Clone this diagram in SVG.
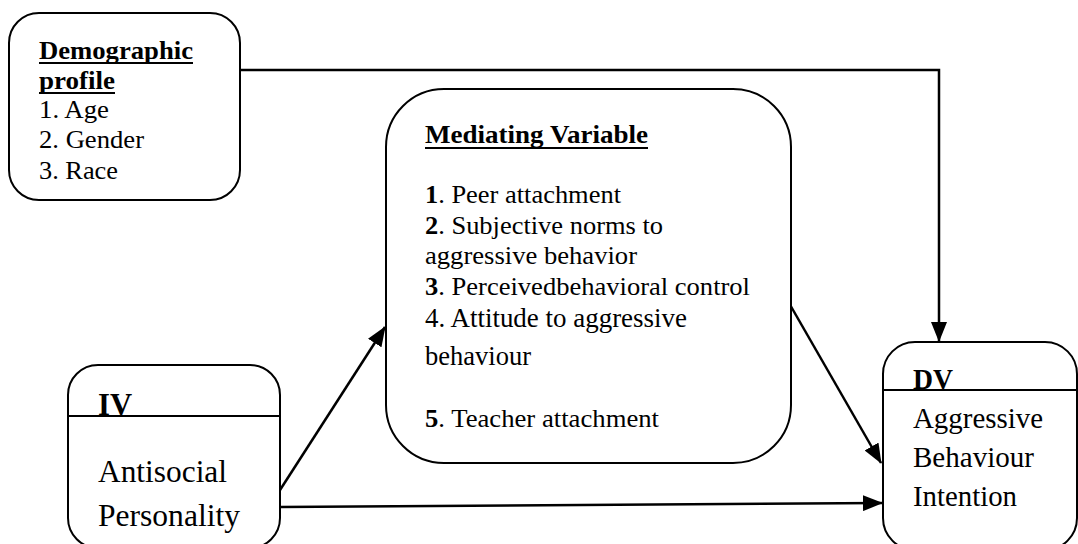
<svg xmlns="http://www.w3.org/2000/svg" width="1078" height="544" viewBox="0 0 1078 544">
<style>
  .box { fill: #ffffff; stroke: #000000; stroke-width: 2; }
  .sep { stroke: #000000; stroke-width: 2; }
  .t { font-family: "Liberation Serif", "Times New Roman", serif; fill: #000000; }
  .b { font-weight: bold; }
  .ul { stroke: #000000; stroke-width: 2; }
  .conn { fill: none; stroke: #000000; stroke-width: 2.5; }
</style>
<defs>
  <marker id="arrow" markerUnits="userSpaceOnUse" markerWidth="20" markerHeight="16" refX="19" refY="8" orient="auto">
    <path d="M0,0 L20,8 L0,16 Z" fill="#000000"/>
  </marker>
</defs>
<rect width="1078" height="544" fill="#ffffff"/>

<g id="connectors">
  <polyline class="conn" points="240,70 939,70 939,341" stroke-width="2" marker-end="url(#arrow)"/>
  <line class="conn" x1="280" y1="490" x2="385" y2="327" marker-end="url(#arrow)"/>
  <line class="conn" x1="789" y1="303" x2="881" y2="463" marker-end="url(#arrow)"/>
  <line class="conn" x1="280" y1="507" x2="882" y2="503" stroke-width="3" marker-end="url(#arrow)"/>
</g>

<g id="demographic">
  <rect class="box" x="9" y="13" width="231" height="187" rx="30" ry="30"/>
  <text class="t b" x="39" y="59" font-size="25" textLength="154" lengthAdjust="spacingAndGlyphs">Demographic</text>
  <line class="ul" x1="39" y1="63" x2="193" y2="63"/>
  <text class="t b" x="39" y="89" font-size="25" textLength="76" lengthAdjust="spacingAndGlyphs">profile</text>
  <line class="ul" x1="39" y1="93" x2="115" y2="93"/>
  <text class="t" x="39" y="118" font-size="25" textLength="70" lengthAdjust="spacingAndGlyphs">1. Age</text>
  <text class="t" x="39" y="148" font-size="25" textLength="105" lengthAdjust="spacingAndGlyphs">2. Gender</text>
  <text class="t" x="39" y="179" font-size="25" textLength="79" lengthAdjust="spacingAndGlyphs">3. Race</text>
</g>

<g id="mediating">
  <rect class="box" x="386" y="89" width="405" height="374" rx="58" ry="58"/>
  <text class="t b" x="425" y="143" font-size="25" textLength="223" lengthAdjust="spacingAndGlyphs">Mediating Variable</text>
  <line class="ul" x1="425" y1="148" x2="648" y2="148"/>
  <text class="t" x="425" y="203" font-size="25" textLength="196" lengthAdjust="spacingAndGlyphs"><tspan class="b">1</tspan>. Peer attachment</text>
  <text class="t" x="425" y="234" font-size="25" textLength="238" lengthAdjust="spacingAndGlyphs"><tspan class="b">2</tspan>. Subjective norms to</text>
  <text class="t" x="425" y="264" font-size="25" textLength="212" lengthAdjust="spacingAndGlyphs">aggressive behavior</text>
  <text class="t" x="425" y="295" font-size="25" textLength="325" lengthAdjust="spacingAndGlyphs"><tspan class="b">3</tspan>. Perceivedbehavioral control</text>
  <text class="t" x="425" y="327" font-size="27" textLength="262" lengthAdjust="spacingAndGlyphs">4.  Attitude to aggressive</text>
  <text class="t" x="425" y="365" font-size="27" textLength="106" lengthAdjust="spacingAndGlyphs">behaviour</text>
  <text class="t" x="425" y="427" font-size="25" textLength="234" lengthAdjust="spacingAndGlyphs"><tspan class="b">5</tspan>. Teacher attachment</text>
</g>

<g id="iv">
  <rect class="box" x="68" y="365" width="212" height="183" rx="30" ry="30"/>
  <line class="sep" x1="68" y1="416" x2="280" y2="416"/>
  <text class="t b" x="98" y="415" font-size="31" textLength="34" lengthAdjust="spacingAndGlyphs">IV</text>
  <text class="t" x="98" y="482" font-size="31" textLength="129" lengthAdjust="spacingAndGlyphs">Antisocial</text>
  <text class="t" x="98" y="526" font-size="31" textLength="142" lengthAdjust="spacingAndGlyphs">Personality</text>
</g>

<g id="dv">
  <rect class="box" x="883" y="342" width="194" height="208" rx="32" ry="32"/>
  <line class="sep" x1="883" y1="390" x2="1077" y2="390"/>
  <text class="t b" x="913" y="389" font-size="29" textLength="40" lengthAdjust="spacingAndGlyphs">DV</text>
  <text class="t" x="913" y="428" font-size="29" textLength="130" lengthAdjust="spacingAndGlyphs">Aggressive</text>
  <text class="t" x="913" y="467" font-size="29" textLength="121" lengthAdjust="spacingAndGlyphs">Behaviour</text>
  <text class="t" x="913" y="506" font-size="29" textLength="104" lengthAdjust="spacingAndGlyphs">Intention</text>
</g>
</svg>
